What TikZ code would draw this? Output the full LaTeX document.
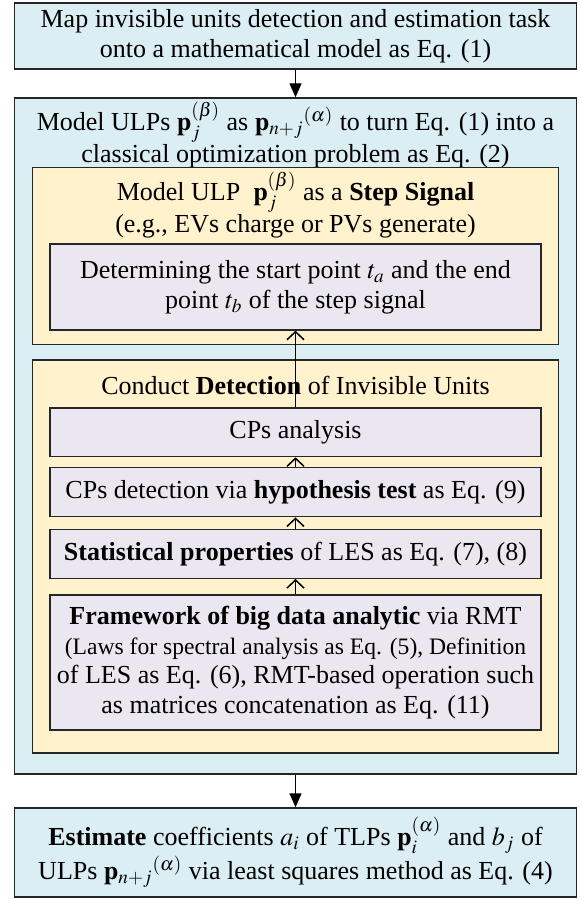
\documentclass[tikz,border=0pt]{standalone}
\usepackage{mathptmx}
\usepackage{fontspec}
\setmainfont{Liberation Serif}
\usetikzlibrary{arrows.meta}
\definecolor{boxblue}{RGB}{219,238,244}
\definecolor{boxyellow}{RGB}{255,242,204}
\definecolor{boxlilac}{RGB}{234,231,241}

\begin{document}
\begin{tikzpicture}[x=0.5pt, y=-0.5pt,
      every node/.style={font=\fontsize{13}{14.8}\selectfont, align=center, inner sep=0pt},
      bluebox/.style={draw=black!85, line width=0.7pt, fill=boxblue, minimum width=281pt},
      yelbox/.style={draw=black!85, line width=0.7pt, fill=boxyellow, minimum width=263pt},
      lilbox/.style={draw=black!85, line width=0.7pt, fill=boxlilac, minimum width=245.5pt},
      bigar/.style={-{Triangle[length=7pt, width=6pt]}, line width=0.7pt},
      smallar/.style={-{Straight Barb[length=4pt, width=8.5pt]}, line width=0.75pt}
    ]
      \useasboundingbox (0,0) rectangle (582,899);

      % top: mapping
      \node[bluebox, minimum height=33pt] (map) at (295.5,36)
        {Map invisible units detection and estimation task\\onto a mathematical model as Eq. (1)};

      % modelling block
      \node[bluebox, minimum height=338pt] (model) at (295.5,436) {};
      \node (modeltitle) at (295.5,135)
        {Model ULPs $\mathbf{p}_j^{(\beta)}$ as $\mathbf{p}_{n+j}{}^{(\alpha)}$ to turn Eq. (1) into a\\classical optimization problem as Eq. (2)};
      \draw[bigar] (map)--(model);

      % step signal
      \node[yelbox, minimum height=88.75pt] (step) at (295.3,256) {};
      \node (steptitle) at (295.5,205)
        {Model ULP ~$\mathbf{p}_j^{(\beta)}$ as a \textbf{Step Signal}\\(e.g., EVs charge or PVs generate)};
      \node[lilbox, minimum height=43pt] (determ) at (295.5,287)
        {Determining the start point $t_a$ and the end\\point $t_b$ of the step signal};

      % detection
      \node[yelbox, minimum height=196.5pt] (detect) at (295.3,556.5) {};
      \node (detecttitle) at (295.5,385) {Conduct \textbf{Detection} of Invisible Units};
      \node[lilbox, minimum height=24.3pt] (cpa) at (295.5,432.3) {CPs analysis};
      \node[lilbox, minimum height=24.5pt] (cpd) at (295.5,492.2)
        {CPs detection via \textbf{hypothesis test} as Eq. (9)};
      \node[lilbox, minimum height=24.5pt] (stat) at (295.5,553.8)
        {\textbf{Statistical properties} of LES as Eq. (7), (8)};
      \node[lilbox, minimum height=67.5pt] (rmt) at (295.5,662.5)
        {\textbf{Framework of big data analytic} via RMT\\\fontsize{11.8}{15.5}\selectfont
         (Laws for spectral analysis as Eq. (5), Definition\\of LES as Eq. (6), RMT-based operation such\\as matrices concatenation as Eq. (11)};
      \draw[smallar] (rmt)--(stat);
      \draw[smallar] (stat)--(cpd);
      \draw[smallar] (cpd)--(cpa);
      \draw[smallar] (cpa)--(determ);

      % bottom: estimation
      \node[bluebox, minimum height=44.5pt] (est) at (295.5,852.5)
        {\textbf{Estimate} coefficients $a_i$ of TLPs $\mathbf{p}_i^{(\alpha)}$ and $b_j$ of\\ULPs $\mathbf{p}_{n+j}{}^{(\alpha)}$ via least squares method as Eq. (4)};
      \draw[bigar] (model)--(est);
    \end{tikzpicture}
\end{document}
